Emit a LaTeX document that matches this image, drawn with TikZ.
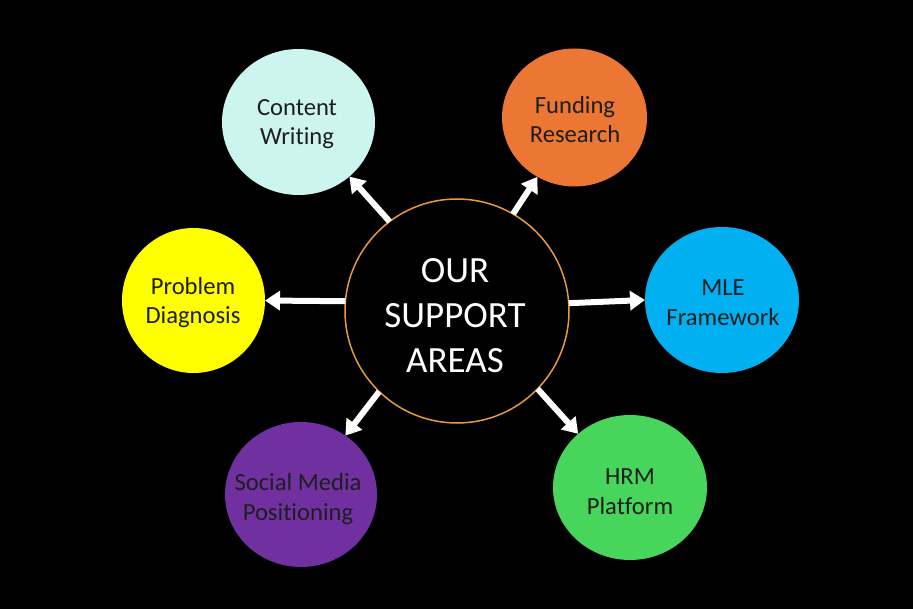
\documentclass[tikz,border=0pt]{standalone}
\usepackage{fontspec}
\setmainfont{Carlito}[Ligatures={NoCommon}]
\usetikzlibrary{arrows.meta,shapes.geometric}
\definecolor{cwc}{HTML}{CCF5F0}
\definecolor{frc}{HTML}{EC7634}
\definecolor{mlec}{HTML}{00B0F0}
\definecolor{hrmc}{HTML}{47D55B}
\definecolor{smc}{HTML}{7030A0}
\definecolor{pdc}{HTML}{FFFF00}
\definecolor{ringc}{HTML}{E8993E}
\definecolor{satink}{HTML}{1E1E1E}
\begin{document}
\begin{tikzpicture}[x=1pt,y=-1pt,
  sat/.style={ellipse,draw=none,inner sep=0pt,outer sep=0pt},
  sattext/.style={align=center,text=satink,font=\fontsize{24.6}{29.5}\selectfont,inner sep=0pt},
  arr/.style={draw=white,line width=6pt,-{Triangle[length=15pt,width=19pt]}}]
\fill[black] (0,0) rectangle (913,609);
\useasboundingbox (0,0) rectangle (913,609);
% centre
\node[circle,draw=ringc,line width=1.5pt,minimum size=224pt,inner sep=0pt,outer sep=0pt] (c) at (457,311) {};
\node[align=center,text=white,font=\fontsize{37}{45}\selectfont,inner sep=0pt] (ct) at (455,315.5) {OUR\\SUPPORT\\AREAS};
% satellites
\node[sat,fill=cwc,minimum width=153pt,minimum height=146pt] (cw) at (298.5,122) {};
\node[sattext] (cwt) at (297,124) {Content\\Writing};
\node[sat,fill=frc,minimum width=145pt,minimum height=138pt] (fr) at (574.5,117.5) {};
\node[sattext] (frt) at (575,119.5) {Funding\\Research};
\node[sat,fill=mlec,minimum width=154pt,minimum height=146pt] (mle) at (722,300) {};
\node[sattext] (mlet) at (723,302.5) {MLE\\Framework};
\node[sat,fill=hrmc,minimum width=154pt,minimum height=145pt] (hrm) at (630,487.5) {};
\node[sattext] (hrmt) at (630,491.5) {HRM\\Platform};
\node[sat,fill=smc,minimum width=152pt,minimum height=145pt] (sm) at (301,494.5) {};
\node[sattext] (smt) at (298,499) {Social Media\\Positioning};
\node[sat,fill=pdc,minimum width=143pt,minimum height=145pt] (pd) at (193.5,300.5) {};
\node[sattext] (pdt) at (193,302.5) {Problem\\Diagnosis};
% arrows
\draw[arr] (c.127.3) -- (cw.-47.4);
\draw[arr] (c.60.3) -- (fr.-122.2);
\draw[arr] (c.4.7) -- (mle.180);
\draw[arr] (c.-44.6) -- (hrm.134.1);
\draw[arr] (c.-134.7) -- (sm.53.5);
\draw[arr] (c.175.4) -- (pd.0);
\end{tikzpicture}
\end{document}
